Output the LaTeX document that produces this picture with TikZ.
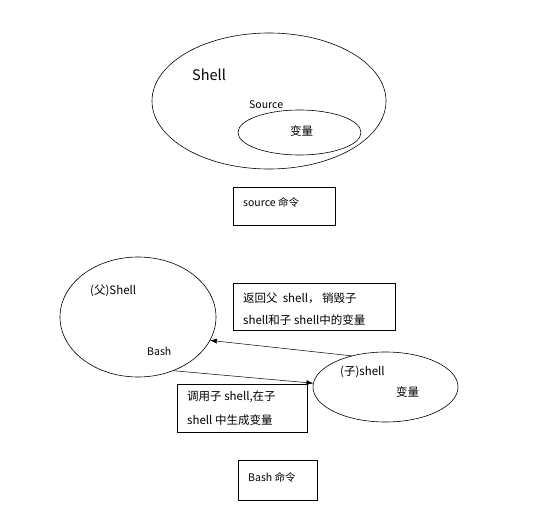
\documentclass[tikz,border=0pt]{standalone}
\usepackage{fontspec}
\setmainfont{Noto Sans CJK SC}
\usetikzlibrary{shapes.geometric,arrows.meta}
\begin{document}
\begin{tikzpicture}[x=1pt,y=-1pt,
  oval/.style={draw,ellipse,inner sep=0pt,outer sep=0pt,line width=0.6pt},
  lbl/.style={anchor=west,inner sep=0pt,font=\fontsize{11.5}{14}\selectfont},
  cmdbox/.style={draw,rectangle,inner sep=0pt,outer sep=0pt,line width=0.6pt},
  arr/.style={-{Latex[length=7pt,width=5pt]},line width=0.5pt}]
\useasboundingbox[fill=white] (0,0) rectangle (547,511);
% top group
\node[oval,minimum width=234pt,minimum height=136pt] (shell) at (269,101) {};
\node[oval,minimum width=123pt,minimum height=45pt] (var) at (299.5,132.5) {};
\node[lbl,font=\fontsize{14.5}{16}\selectfont] (shelltxt) at (192,75) {Shell};
\node[lbl,font=\fontsize{10.5}{12}\selectfont] (srctxt) at (249,105) {Source};
\node[lbl] (vartxt) at (290,131) {变量};
\node[cmdbox,minimum width=102pt,minimum height=38pt] (srcbox) at (284,206) {};
\node[lbl,font=\fontsize{10.5}{12}\selectfont] (srccmd) at (243,202) {source 命令};
% bottom group
\node[oval,minimum width=156pt,minimum height=120pt] (parent) at (138,317) {};
\node[lbl] (ptxt) at (90,291) {(父)Shell};
\node[lbl,font=\fontsize{10.5}{12}\selectfont] (bash) at (147,351) {Bash};
\node[oval,minimum width=145pt,minimum height=70pt] (child) at (385.5,387) {};
\node[lbl] (ctxt) at (340,372) {(子)shell};
\node[lbl] (cvar) at (396,392) {变量};
\node[cmdbox,minimum width=162pt,minimum height=47pt] (retbox) at (314,306.5) {};
\node[lbl] (ret1) at (243,298) {返回父\ \ shell， 销毁子};
\node[lbl] (ret2) at (243,320) {shell和子 shell中的变量};
\node[cmdbox,minimum width=130pt,minimum height=48pt] (callbox) at (242,408) {};
\node[lbl] (call1) at (187,397) {调用子 shell,在子};
\node[lbl] (call2) at (187,420) {shell 中生成变量};
\node[cmdbox,minimum width=79pt,minimum height=40pt] (bashbox) at (277.5,480) {};
\node[lbl,font=\fontsize{10.5}{12}\selectfont] (bashcmd) at (248,477) {Bash 命令};
% arrows
\draw[arr] (child.137) -- (parent.-18);
\draw[arr] (parent.-57) -- (child.177);
\end{tikzpicture}
\end{document}
